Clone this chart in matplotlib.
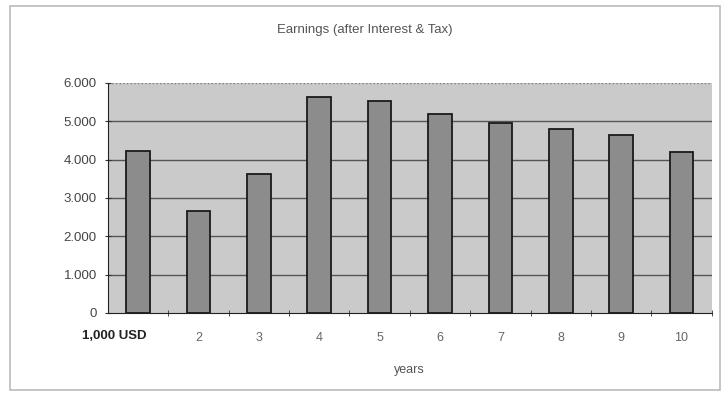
import matplotlib.pyplot as plt
from matplotlib.patches import Rectangle

plt.rcParams['font.family'] = ['Liberation Sans', 'DejaVu Sans']

YEARS = [1, 2, 3, 4, 5, 6, 7, 8, 9, 10]
EARNINGS = [4220, 2650, 3620, 5630, 5520, 5190, 4950, 4810, 4650, 4200]
YTICKS = [0, 1000, 2000, 3000, 4000, 5000, 6000]
YLABELS = ['0', '1.000', '2.000', '3.000', '4.000', '5.000', '6.000']
XLABELS = ['', '2', '3', '4', '5', '6', '7', '8', '9', '10']

fig = plt.figure(figsize=(7.24, 3.98), dpi=100)
ax = fig.add_axes([0.149, 0.2136, 0.834, 0.578])

ax.set_facecolor('#cacaca')
for y in YTICKS[1:-1]:
    ax.axhline(y, color='#555555', lw=1.0, zorder=1)
ax.axhline(6000, color='#777777', lw=1.0, ls=':', zorder=1)

ax.bar(YEARS, EARNINGS, width=0.39, color='#8c8c8c', edgecolor='#1a1a1a',
       linewidth=1.3, zorder=2)

ax.set_xlim(0.5, 10.5)
ax.set_ylim(0, 6000)
ax.set_yticks(YTICKS)
ax.set_yticklabels(YLABELS, fontsize=9.5, color='#444444')
ax.set_xticks(YEARS)
ax.set_xticklabels(XLABELS, fontsize=9, color='#666666')
ax.tick_params(axis='x', length=0, pad=14)
ax.set_xticks([x + 0.5 for x in YEARS], minor=True)
ax.tick_params(axis='x', which='minor', length=5, direction='inout', color='#333333')
ax.tick_params(axis='y', length=4, direction='inout', color='#333333', pad=6)

for side in ['top', 'right']:
    ax.spines[side].set_visible(False)
ax.spines['left'].set_color('#222222')
ax.spines['bottom'].set_color('#222222')

ax.text(0.6, -0.1, '1,000 USD', transform=ax.get_xaxis_transform(),
        ha='center', va='center', fontsize=9.5, fontweight='bold', color='#222222')
ax.set_xlabel('years', fontsize=9, color='#555555', labelpad=14)
fig.text(0.504, 0.925, 'Earnings (after Interest & Tax)',
         ha='center', va='center', fontsize=9.5, color='#555555')

fig.patches.append(Rectangle((0.014, 0.02), 0.98, 0.965, transform=fig.transFigure,
                             fill=False, edgecolor='#bbbbbb', lw=1.2))

fig.savefig('out.png', dpi=100)
